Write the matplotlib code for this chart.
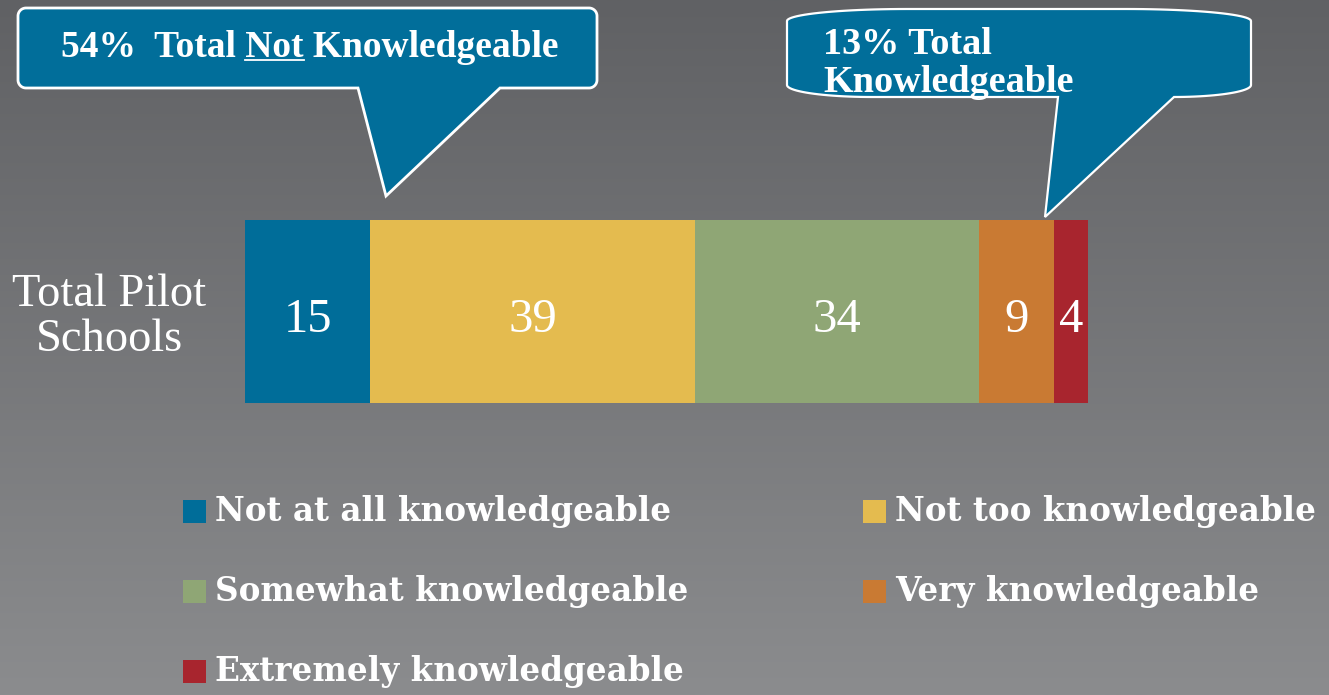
import numpy as np
import matplotlib
matplotlib.use('Agg')
import matplotlib.pyplot as plt
from matplotlib.colors import LinearSegmentedColormap
from matplotlib.patches import Polygon, Rectangle
from matplotlib.transforms import offset_copy

# --- data -------------------------------------------------------------
group_label = 'Total Pilot\nSchools'
categories = ['Not at all knowledgeable', 'Not too knowledgeable',
              'Somewhat knowledgeable', 'Very knowledgeable',
              'Extremely knowledgeable']
values = [15, 39, 34, 9, 4]
colors = ['#006d99', '#e4bb4f', '#8fa675', '#c97a33', '#a8252e']
not_knowledgeable_pct = 54
knowledgeable_pct = 13

W, H = 1329, 695
SERIF = ['Liberation Serif', 'DejaVu Serif']
CALLOUT_BLUE = '#016e9a'

fig = plt.figure(figsize=(W / 100, H / 100), dpi=100)

# gray gradient background
bg = fig.add_axes([0, 0, 1, 1], zorder=0)
grad = np.linspace(0, 1, 256).reshape(-1, 1)
cmap = LinearSegmentedColormap.from_list('bg', ['#606164', '#8b8c8e'])
bg.imshow(grad, aspect='auto', cmap=cmap, extent=[0, 1, 0, 1], origin='upper')
bg.axis('off')

# stacked bar
ax = fig.add_axes([245 / W, (H - 403) / H, (1087.5 - 245) / W, 183 / H], zorder=1)
ax.patch.set_alpha(0)
label_tr = offset_copy(ax.transData, fig=fig, y=-21, units='dots')
left = 0
for v, c, lab in zip(values, colors, categories):
    ax.barh(0, v, left=left, height=1.0, color=c, label=lab)
    ax.text(left + v / 2, 0, str(v), transform=label_tr, ha='center',
            va='baseline', color='white', fontsize=35, family=SERIF)
    left += v
ax.set_xlim(0, sum(values))
ax.set_ylim(-0.5, 0.5)
ax.set_xticks([])
ax.set_yticks([0])
ax.set_yticklabels([group_label], fontsize=33.5, family=SERIF, color='white',
                   multialignment='center', linespacing=1.05)
ax.tick_params(axis='y', length=0, pad=28)
for s in ax.spines.values():
    s.set_visible(False)

# overlay in pixel coordinates for callouts and legend
ov = fig.add_axes([0, 0, 1, 1], zorder=2)
ov.set_xlim(0, W)
ov.set_ylim(H, 0)
ov.axis('off')
ov.patch.set_alpha(0)


def callout_vertices(x0, y0, x1, y1, rx, ry, tail_l, tail_r, tip):
    """Rounded box with a wedge tail off the bottom edge.
    rx = corner radii (top-right, bottom-right, bottom-left, top-left)."""
    def arc(cx, cy, r, a0, a1):
        t = np.radians(np.linspace(a0, a1, 24))
        return list(zip(cx + r * np.cos(t), cy + ry * np.sin(t)))
    tr, br, bl, tl = rx
    pts = []
    pts += arc(x1 - tr, y0 + ry, tr, -90, 0)
    pts += arc(x1 - br, y1 - ry, br, 0, 90)
    pts += [(tail_r, y1), tip, (tail_l, y1)]
    pts += arc(x0 + bl, y1 - ry, bl, 90, 180)
    pts += arc(x0 + tl, y0 + ry, tl, 180, 270)
    return pts


c1 = callout_vertices(18, 8, 597, 88, (8, 8, 8, 8), 8, 358, 500, (386, 196))
ov.add_patch(Polygon(c1, closed=True, facecolor=CALLOUT_BLUE,
                     edgecolor='white', lw=2))
c2 = callout_vertices(787, 9, 1251, 97, (125, 77, 85, 120), 12,
                      1058, 1174, (1045, 217))
ov.add_patch(Polygon(c2, closed=True, facecolor=CALLOUT_BLUE,
                     edgecolor='white', lw=1.6))

# callout 1 text with underlined "Not"
fig.canvas.draw()
renderer = fig.canvas.get_renderer()
t1_size = 27
tx, ty = 61, 57
ov.text(tx, ty, f'{not_knowledgeable_pct}%  Total Not Knowledgeable',
        fontsize=t1_size, fontweight='bold', family=SERIF, color='white',
        va='baseline', ha='left')


def text_width(s):
    tmp = ov.text(0, 0, s, fontsize=t1_size, fontweight='bold', family=SERIF)
    w = tmp.get_window_extent(renderer).width
    tmp.remove()
    return w


u_end = tx + text_width(f'{not_knowledgeable_pct}%  Total Not')
u_start = u_end - text_width('Not')
ov.plot([u_start, u_end], [ty + 3, ty + 3], color='white', lw=1.3)

# callout 2 text
ov.text(823, 54, f'{knowledgeable_pct}% Total', fontsize=27.5,
        fontweight='bold', family=SERIF, color='white', va='baseline', ha='left')
ov.text(823, 92, 'Knowledgeable', fontsize=27.5,
        fontweight='bold', family=SERIF, color='white', va='baseline', ha='left')

# legend, two columns filled column-wise
col_x = [183, 863]
row_y = [511, 591, 671]
for i, (lab, c) in enumerate(zip(categories, colors)):
    col = 0 if i in (0, 2, 4) else 1
    row = [0, 0, 1, 1, 2][i]
    x, y = col_x[col], row_y[row]
    ov.add_patch(Rectangle((x, y - 11.5), 23, 23, facecolor=c, edgecolor='none'))
    ov.text(x + 32, y, lab, fontsize=23.5, fontweight='bold',
            family=['DejaVu Serif'], color='white', va='center', ha='left')

fig.savefig('out.png', dpi=100)
